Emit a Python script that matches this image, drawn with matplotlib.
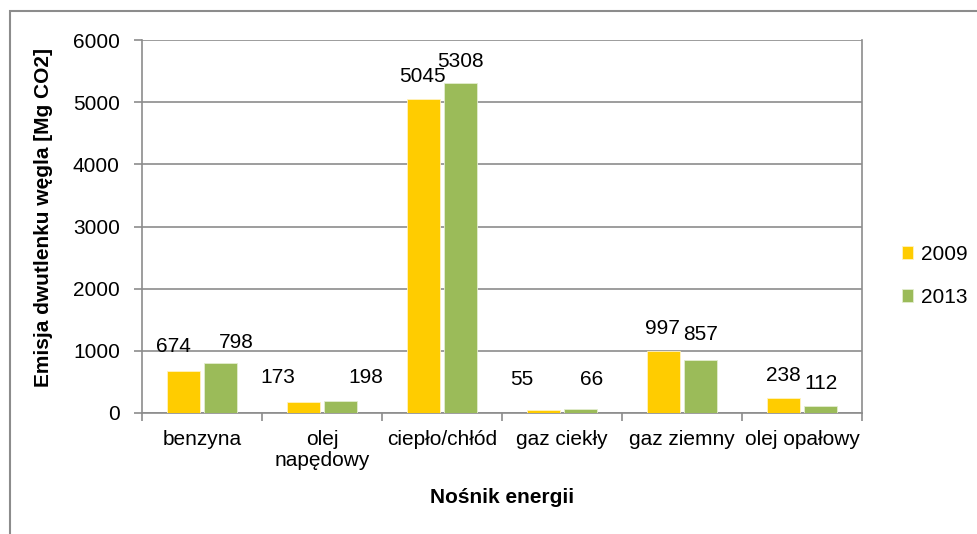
import matplotlib
matplotlib.use("Agg")
import matplotlib.pyplot as plt
import numpy as np
from matplotlib.patches import Rectangle

categories = ["benzyna", "olej\nnapędowy", "ciepło/chłód", "gaz ciekły", "gaz ziemny", "olej opałowy"]
series_names = ["2009", "2013"]
values_2009 = [674, 173, 5045, 55, 997, 238]
values_2013 = [798, 198, 5308, 66, 857, 112]
yticks = [0, 1000, 2000, 3000, 4000, 5000, 6000]

# label offsets (pixels) – style only
dx_2009 = [-10, -25, -1, -21, -1, 0]
dy_2009 = [25, 25, 23, 30, 23, 23]
dx_2013 = [15, 25, 0, 11, 0, 0]
dy_2013 = [21, 23, 22, 29, 25, 23]

FS = 15
plt.rcParams['font.family'] = ['Liberation Sans', 'DejaVu Sans']
fig = plt.figure(figsize=(9.78, 5.34), dpi=100)
W, H = 978, 534

# outer chart frame
fig.patches.append(Rectangle((10 / W, -0.1), 1.2, (1 - 11 / H) + 0.1, transform=fig.transFigure,
                             fill=False, edgecolor='#8c8c8c', linewidth=1.5, zorder=0))

ax = fig.add_axes([142 / W, 1 - 413 / H, (862 - 142) / W, (413 - 40) / H])
x = np.arange(len(categories))
bw = 0.275
gap = 0.04
c1, c2 = '#FFCC00', '#9BBB59'
b1 = ax.bar(x - (bw + gap) / 2, values_2009, bw, color=c1, edgecolor='#FFF3C0', linewidth=0.6,
            label=series_names[0], zorder=3)
b2 = ax.bar(x + (bw + gap) / 2, values_2013, bw, color=c2, edgecolor='#E3EDCF', linewidth=0.6,
            label=series_names[1], zorder=3)

for bars, vals, dxs, dys in [(b1, values_2009, dx_2009, dy_2009), (b2, values_2013, dx_2013, dy_2013)]:
    for rect, v, dx, dy in zip(bars, vals, dxs, dys):
        ax.annotate(str(v), (rect.get_x() + rect.get_width() / 2, v), xytext=(dx, dy),
                    textcoords='offset pixels', ha='center', va='center', fontsize=FS, color='black',
                    zorder=4)

ax.set_xlim(-0.5, len(categories) - 0.5)
ax.set_ylim(0, 6000)
ax.set_yticks(yticks)
ax.set_yticklabels([str(t) for t in yticks], fontsize=FS)
ax.yaxis.grid(True, color='#8c8c8c', linewidth=1.2, zorder=0)
ax.set_axisbelow(True)

ax.set_xticks(x)
ax.set_xticklabels(categories, fontsize=FS, linespacing=1.18)
ax.set_xticks(np.arange(-0.5, len(categories)), minor=True)
ax.tick_params(axis='x', which='major', length=0, pad=12)
ax.tick_params(axis='x', which='minor', length=6, width=1.2, color='#8c8c8c', direction='out')
ax.tick_params(axis='y', length=6, width=1.2, color='#8c8c8c', direction='out', pad=10)

for s in ['left', 'bottom', 'right', 'top']:
    ax.spines[s].set_color('#8c8c8c')
    ax.spines[s].set_linewidth(1.2)
ax.spines['top'].set_visible(False)

ax.set_ylabel("Emisja dwutlenku węgla [Mg CO2]", fontsize=FS, fontweight='bold')
ax.yaxis.set_label_coords(-0.123, 0.524)
ax.set_xlabel("Nośnik energii", fontsize=FS, fontweight='bold')
ax.xaxis.set_label_coords(0.5, -0.201)

leg = ax.legend(loc='center left', bbox_to_anchor=(1.044, 0.368), frameon=False, fontsize=FS,
                handlelength=0.55, handleheight=0.55, handletextpad=0.35, labelspacing=1.15,
                borderaxespad=0)

fig.savefig("out.png", dpi=100)
